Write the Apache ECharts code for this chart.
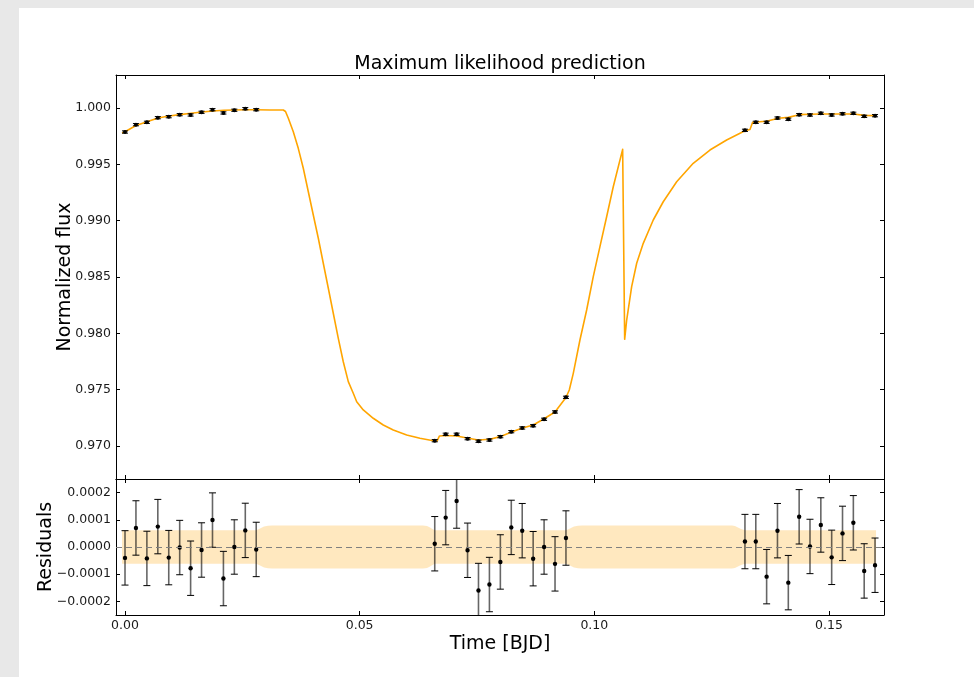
<!DOCTYPE html>
<html>
<head>
<meta charset="utf-8">
<script src="https://cdn.jsdelivr.net/npm/echarts@6/dist/echarts.min.js"></script>
<style>
  html, body { margin: 0; padding: 0; background: #e8e8e8; }
  #sheet { position: absolute; left: 19px; top: 8px; right: 0; bottom: 0; background: #ffffff; }
  #chart { position: absolute; left: 0; top: 0; width: 974px; height: 677px; }
</style>
</head>
<body>
<div id="sheet"></div>
<div id="chart"></div>
<script>
// Observation times [BJD offset]
const obsTime = [
  0.00000, 0.00233, 0.00466, 0.00699, 0.00932, 0.01165, 0.01398, 0.01631, 0.01864, 0.02097, 0.02330, 0.02563, 0.02796,
  0.06600, 0.06833, 0.07066, 0.07299, 0.07532, 0.07765, 0.07998, 0.08231, 0.08464, 0.08697, 0.08930, 0.09163, 0.09396,
  0.13210, 0.13441, 0.13672, 0.13903, 0.14134, 0.14365, 0.14596, 0.14827, 0.15058, 0.15289, 0.15520, 0.15751, 0.15982
];
// Normalized flux of each observation
const obsFlux = [
  0.99787, 0.99852, 0.99873, 0.99914, 0.99923, 0.99941, 0.99938, 0.99962, 0.99985, 0.99956, 0.99980, 0.99994, 0.99985,
  0.97047, 0.97104, 0.97104, 0.97065, 0.97042, 0.97053, 0.97083, 0.97127, 0.97160, 0.97180, 0.97237, 0.97302, 0.97432,
  0.99802, 0.99873, 0.99873, 0.99911, 0.99900, 0.99941, 0.99938, 0.99953, 0.99938, 0.99949, 0.99953, 0.99926, 0.99932
];
// Flux uncertainty (same for every point)
const obsError = 0.0001;
// Residuals (data - model)
const obsResidual = [
  -0.000040, 0.000070, -0.000042, 0.000075, -0.000039, -0.000002, -0.000078, -0.000011, 0.000099, -0.000116, 0.000000, 0.000061, -0.000009,
  0.000012, 0.000108, 0.000169, -0.000012, -0.000160, -0.000138, -0.000055, 0.000072, 0.000060, -0.000043, 0.000000, -0.000062, 0.000033,
  0.000020, 0.000020, -0.000109, 0.000060, -0.000131, 0.000111, 0.000002, 0.000081, -0.000038, 0.000050, 0.000089, -0.000088, -0.000067
];

// Maximum likelihood model curve
const modelTime = [
  -0.00064, 0.00000, 0.00234, 0.00469, 0.00703, 0.00938, 0.01172, 0.01406, 0.01641, 0.01875, 0.02109, 0.02322, 0.02557, 0.02791, 0.03089, 0.03373,
  0.03420, 0.03480, 0.03586, 0.03692, 0.03799, 0.03906, 0.04012, 0.04119, 0.04225, 0.04332, 0.04438, 0.04545, 0.04651, 0.04758, 0.04864, 0.04937,
  0.05077, 0.05290, 0.05503, 0.05716, 0.06002, 0.06285, 0.06568, 0.06648,
  0.06701, 0.06839, 0.07067, 0.07315, 0.07528, 0.07777, 0.07990, 0.08239, 0.08452, 0.08699, 0.08913, 0.09162, 0.09396,
  0.09467, 0.09552, 0.09694, 0.09837, 0.09978, 0.10120, 0.10263, 0.10404, 0.10604,
  0.10647, 0.10690, 0.10796, 0.10903, 0.11043, 0.11256, 0.11469, 0.11755, 0.12108, 0.12464, 0.12820, 0.13210, 0.13317,
  0.13374, 0.13672, 0.13920, 0.14133, 0.14367, 0.14595, 0.14823, 0.15058, 0.15292, 0.15526, 0.15752, 0.15986
];
const modelFlux = [
  0.99778, 0.99789, 0.99845, 0.99878, 0.99911, 0.99929, 0.99941, 0.99953, 0.99964, 0.99973, 0.99980, 0.99982, 0.99984, 0.99984, 0.99982, 0.99982,
  0.99969, 0.99909, 0.99790, 0.99642, 0.99465, 0.99257, 0.99050, 0.98844, 0.98622, 0.98400, 0.98178, 0.97956, 0.97748, 0.97571, 0.97468, 0.97393,
  0.97320, 0.97246, 0.97186, 0.97142, 0.97098, 0.97068, 0.97047, 0.97044,
  0.97089, 0.97093, 0.97089, 0.97068, 0.97053, 0.97060, 0.97083, 0.97124, 0.97157, 0.97186, 0.97237, 0.97302, 0.97430,
  0.97497, 0.97645, 0.97941, 0.98207, 0.98503, 0.98769, 0.99035, 0.99301, 0.99633,
  0.97947, 0.98118, 0.98414, 0.98622, 0.98799, 0.99006, 0.99168, 0.99346, 0.99509, 0.99627, 0.99716, 0.99798, 0.99809,
  0.99873, 0.99882, 0.99909, 0.99917, 0.99941, 0.99944, 0.99947, 0.99947, 0.99947, 0.99947, 0.99935, 0.99932
];

// Predictive noise envelope (half width) for the residuals
const bandTime = [
  -0.00064, 0.02791, 0.02834, 0.02898, 0.02962, 0.03047, 0.03132,
  0.06350, 0.06435, 0.06500, 0.06550, 0.06600,
  0.09396, 0.09439, 0.09503, 0.09567, 0.09652, 0.09738,
  0.12934, 0.12998, 0.13062, 0.13126, 0.13211, 0.16003
];
const bandHalf = [
  0.000062, 0.000062, 0.000064, 0.000070, 0.000075, 0.000078, 0.000079,
  0.000079, 0.000077, 0.000072, 0.000066, 0.000062,
  0.000062, 0.000064, 0.000070, 0.000075, 0.000078, 0.000079,
  0.000079, 0.000077, 0.000072, 0.000066, 0.000062, 0.000062
];

// Tick positions
const timeTicks = [0, 0.05, 0.10, 0.15];
const fluxTicks = [0.970, 0.975, 0.980, 0.985, 0.990, 0.995, 1.000];
const residTicks = [-0.0002, -0.0001, 0, 0.0001, 0.0002];

const FONT = '"DejaVu Sans", "Liberation Sans", sans-serif';
const TEXT = '#1a1a1a';
const ORANGE = '#ffa500';
const TICK_FONT = 12.5;
const NAME_FONT = 19;

const chart = echarts.init(document.getElementById('chart'), null, { renderer: 'canvas' });

const fluxData = obsTime.map((t, i) => [t, obsFlux[i], obsError]);
const residData = obsTime.map((t, i) => [t, obsResidual[i], obsError]);
const modelData = modelTime.map((t, i) => [t, modelFlux[i]]);

function errorBarRenderer(dotR, capHalf, barColor, barWidth) {
  return function (params, api) {
    const x = api.value(0), y = api.value(1), e = api.value(2);
    const c = api.coord([x, y]);
    const hi = api.coord([x, y + e]);
    const lo = api.coord([x, y - e]);
    return {
      type: 'group',
      children: [
        { type: 'line', shape: { x1: c[0], y1: hi[1], x2: c[0], y2: lo[1] },
          style: { stroke: barColor, lineWidth: barWidth } },
        { type: 'line', shape: { x1: c[0] - capHalf, y1: hi[1], x2: c[0] + capHalf, y2: hi[1] },
          style: { stroke: '#000', lineWidth: 1 } },
        { type: 'line', shape: { x1: c[0] - capHalf, y1: lo[1], x2: c[0] + capHalf, y2: lo[1] },
          style: { stroke: '#000', lineWidth: 1 } },
        { type: 'circle', shape: { cx: c[0], cy: c[1], r: dotR }, style: { fill: '#000' } }
      ]
    };
  };
}

function bandRenderer(params, api) {
  const upper = bandTime.map((t, i) => api.coord([t, bandHalf[i]]));
  const lower = bandTime.map((t, i) => api.coord([t, -bandHalf[i]])).reverse();
  return {
    type: 'polygon',
    shape: { points: upper.concat(lower), smooth: 0 },
    style: { fill: 'rgba(255,165,0,0.25)', stroke: null }
  };
}

const tickStyle = { show: true, inside: true, length: 4, lineStyle: { color: '#000', width: 1 } };
const lineStyle = { show: true, onZero: false, lineStyle: { color: '#000', width: 1 } };
const labelStyle = { fontFamily: FONT, fontSize: TICK_FONT, color: TEXT };

const xRange = { min: -0.00192, max: 0.16173 };

function xAxisDef(gridIndex, position, showLabel) {
  return {
    type: 'value', gridIndex, position, ...xRange,
    axisLine: lineStyle,
    axisTick: { ...tickStyle, customValues: timeTicks },
    axisLabel: showLabel ? { ...labelStyle, margin: 4, customValues: timeTicks,
      formatter: v => v.toFixed(2) } : { show: false },
    splitLine: { show: false }
  };
}

function fmtResid(v) {
  if (Math.abs(v) < 1e-12) return '0.0000';
  const s = Math.abs(v).toFixed(4);
  return v < 0 ? '\u2212' + s : s;
}

function nameText(text, x, y, rotated) {
  return { type: 'text', x, y, rotation: rotated ? Math.PI / 2 : 0,
    style: { text, font: NAME_FONT + 'px ' + FONT, fill: '#000', align: 'center', verticalAlign: 'middle' } };
}

const option = {
  animation: false,
  backgroundColor: 'transparent',
  grid: [
    { left: 116, top: 75, width: 768, height: 404, show: false },
    { left: 116, top: 479, width: 768, height: 136, show: false }
  ],
  xAxis: [
    xAxisDef(0, 'bottom', false),
    xAxisDef(0, 'top', false),
    xAxisDef(1, 'bottom', true),
    xAxisDef(1, 'top', false)
  ],
  yAxis: [
    { type: 'value', gridIndex: 0, position: 'left', min: 0.96707, max: 1.00293,
      axisLine: lineStyle, axisTick: { ...tickStyle, customValues: fluxTicks },
      axisLabel: { ...labelStyle, margin: 5, customValues: fluxTicks, formatter: v => v.toFixed(3) },
      splitLine: { show: false } },
    { type: 'value', gridIndex: 0, position: 'right', min: 0.96707, max: 1.00293,
      axisLine: lineStyle, axisTick: { ...tickStyle, customValues: fluxTicks },
      axisLabel: { show: false }, splitLine: { show: false } },
    { type: 'value', gridIndex: 1, position: 'left', min: -0.00025, max: 0.00025,
      axisLine: lineStyle, axisTick: { ...tickStyle, customValues: residTicks },
      axisLabel: { ...labelStyle, margin: 5, customValues: residTicks, formatter: fmtResid },
      splitLine: { show: false } },
    { type: 'value', gridIndex: 1, position: 'right', min: -0.00025, max: 0.00025,
      axisLine: lineStyle, axisTick: { ...tickStyle, customValues: residTicks },
      axisLabel: { show: false }, splitLine: { show: false } }
  ],
  series: [
    {
      name: 'model', type: 'line', xAxisIndex: 0, yAxisIndex: 0,
      data: modelData, showSymbol: false, clip: true, z: 2,
      lineStyle: { color: ORANGE, width: 1.6, join: 'round' }
    },
    {
      name: 'flux', type: 'custom', xAxisIndex: 0, yAxisIndex: 0, clip: true, z: 3,
      renderItem: errorBarRenderer(2, 3, 'rgba(0,0,0,0.7)', 1.2),
      encode: { x: 0, y: 1 }, data: fluxData
    },
    {
      name: 'band', type: 'custom', xAxisIndex: 2, yAxisIndex: 2, clip: true, z: 1,
      renderItem: bandRenderer, data: [[0, 0]], encode: { x: 0, y: 1 }
    },
    {
      name: 'residuals', type: 'custom', xAxisIndex: 2, yAxisIndex: 2, clip: true, z: 3,
      renderItem: errorBarRenderer(2.2, 3.5, 'rgba(0,0,0,0.6)', 1.6),
      encode: { x: 0, y: 1 }, data: residData,
      markLine: {
        silent: true, symbol: 'none', label: { show: false },
        lineStyle: { color: '#808080', width: 1, type: [6, 4] },
        data: [{ yAxis: 0 }]
      }
    }
  ],
  graphic: [
    nameText('Maximum likelihood prediction', 500, 64, false),
    nameText('Normalized flux', 65, 277, true),
    nameText('Residuals', 46, 547, true),
    nameText('Time [BJD]', 500, 644, false)
  ]
};

chart.setOption(option);
</script>
</body>
</html>
